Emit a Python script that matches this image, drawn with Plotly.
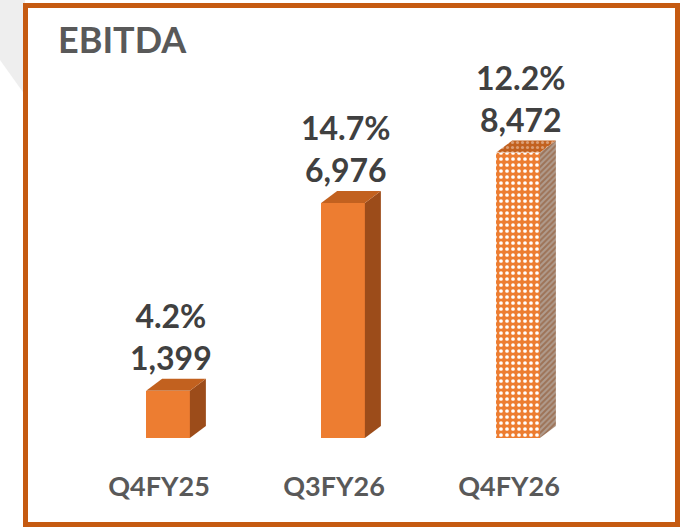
import plotly.graph_objects as go

categories = ["Q4FY25", "Q3FY26", "Q4FY26"]
ebitda = [1399, 6976, 8472]
margins = [4.2, 14.7, 12.2]
title_text = "EBITDA"

ORANGE = "#ED7D31"
TOP = "#C2611F"
SIDE = "#9C4C1A"
BORDER = "#C55A11"
NUM_COLOR = "#404040"
LBL_COLOR = "#595959"
FONT = "Lato"

W = 682
H = 527
BOTTOM_M = 89
PLOT_H = H - BOTTOM_M
Y_MAX = 13000
PX_PER_X = 175.0
X0 = -168.0 / PX_PER_X
X1 = X0 + W / PX_PER_X

bar_w = 0.25
dx = 16.0 / PX_PER_X
dy = 12.0 * Y_MAX / PLOT_H
label_offset = -9.0 / PX_PER_X

fig = go.Figure()

for i, v in enumerate(ebitda):
    patterned = (i == len(ebitda) - 1)
    # front face
    marker = dict(color=ORANGE, line=dict(width=0))
    if patterned:
        marker = dict(color=ORANGE, line=dict(width=0),
                      pattern=dict(shape=".", fgcolor="white", bgcolor=ORANGE,
                                   size=6, solidity=0.3, fillmode="replace"))
    fig.add_trace(go.Bar(x=[i], y=[v], width=bar_w, marker=marker,
                         hoverinfo="skip", showlegend=False))
    xr = i + bar_w / 2
    xl = i - bar_w / 2
    # side face
    side_kw = dict(fillcolor=SIDE)
    if patterned:
        side_kw = dict(fillcolor="#9A7560",
                       fillpattern=dict(shape="/", fgcolor="#8A4A20", bgcolor="#B09C8E",
                                        size=4, solidity=0.5))
    fig.add_trace(go.Scatter(
        x=[xr, xr + dx, xr + dx, xr, xr],
        y=[0, dy, v + dy, v, 0],
        mode="lines", fill="toself", line=dict(width=0),
        hoverinfo="skip", showlegend=False, **side_kw))
    # top face
    top_kw = dict(fillcolor=TOP)
    if patterned:
        top_kw = dict(fillcolor="#D9A27C",
                      fillpattern=dict(shape=".", fgcolor="#F3DCCB", bgcolor=TOP,
                                       size=5, solidity=0.3))
    fig.add_trace(go.Scatter(
        x=[xl, xl + dx, xr + dx, xr, xl],
        y=[v, v + dy, v + dy, v, v],
        mode="lines", fill="toself", line=dict(width=0),
        hoverinfo="skip", showlegend=False, **top_kw))
    # labels
    fig.add_annotation(
        x=i + 0.015, y=v + dy, xref="x", yref="y",
        text=f"{margins[i]:.1f}%<br>{v:,}",
        showarrow=False, xanchor="center", yanchor="bottom", yshift=0,
        font=dict(family=FONT, size=32, color=NUM_COLOR, weight="bold"),
        align="center")

# title
fig.add_annotation(
    x=56 / W, y=(PLOT_H - 39) / PLOT_H, xref="paper", yref="paper",
    text=f"<b>{title_text}</b>", showarrow=False, xanchor="left", yanchor="middle",
    font=dict(family=FONT, size=36, color=LBL_COLOR))

# faint background wedge outside the frame (top-left)
fig.add_shape(type="path", xref="paper", yref="paper",
              path=f"M 0 1 L {25/W} 1 L {25/W} {(PLOT_H-95)/PLOT_H} L 0 {(PLOT_H-60)/PLOT_H} Z",
              line=dict(width=0), fillcolor="#EEEEEE", layer="below")

# border
fig.add_shape(type="rect", xref="paper", yref="paper",
              x0=25.5 / W, x1=677.5 / W,
              y0=(PLOT_H - 524.5) / PLOT_H, y1=(PLOT_H - 5.5) / PLOT_H,
              line=dict(color=BORDER, width=5), fillcolor="rgba(0,0,0,0)",
              layer="below")

fig.update_layout(
    width=W, height=H,
    margin=dict(l=0, r=0, t=0, b=BOTTOM_M, pad=0),
    paper_bgcolor="white", plot_bgcolor="rgba(0,0,0,0)",
    bargap=0,
    xaxis=dict(range=[X0, X1],
               tickvals=[k + label_offset for k in range(len(categories))],
               ticktext=categories, showgrid=False, zeroline=False,
               showline=False, ticks="", ticklabelstandoff=30,
               tickfont=dict(family=FONT, size=27, color=LBL_COLOR, weight="bold"),
               fixedrange=True),
    yaxis=dict(range=[0, Y_MAX], visible=False, showgrid=False, zeroline=False,
               fixedrange=True),
)

fig.write_html("out.html",
               config={"displayModeBar": False},
               post_script="document.body.style.margin='0';document.body.style.overflow='hidden';")
